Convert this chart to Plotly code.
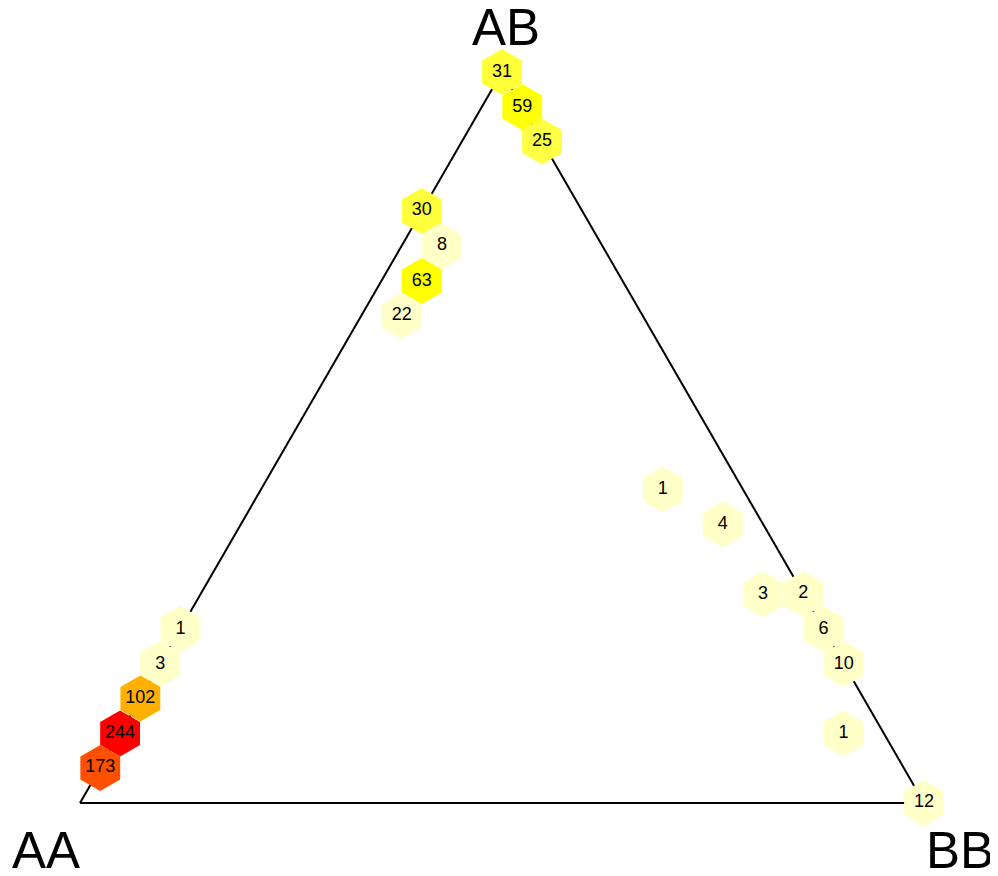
import plotly.graph_objects as go

# Genotype proportions per hexbin (AA / AB / BB) and the number of samples in each bin
aa_frac = [0, 0, 0, 0.190, 0.190, 0.238, 0.286, 0.095, 0.048, 0.048,
           0, 0, 0, 0.048, 0, 0.762, 0.810, 0.857, 0.905, 0.952]
ab_frac = [1, 0.952, 0.905, 0.810, 0.762, 0.714, 0.667, 0.429, 0.381, 0.286,
           0.286, 0.238, 0.190, 0.095, 0, 0.238, 0.190, 0.143, 0.095, 0.048]
bb_frac = [0, 0.048, 0.095, 0, 0.048, 0.048, 0.048, 0.476, 0.571, 0.667,
           0.714, 0.762, 0.810, 0.857, 1, 0, 0, 0, 0, 0]
counts = [31, 59, 25, 30, 8, 63, 22, 1, 4, 3,
          2, 6, 10, 1, 12, 1, 3, 102, 244, 173]

corner_labels = ["AB", "AA", "BB"]

FONT = "Liberation Sans, Arial, sans-serif"

# heat-like colour ramp: pale yellow for small bins, yellow -> orange -> red for big ones
heat_scale = [
    [0.0, "#FFFFC8"],
    [0.09, "#FFFFC8"],
    [0.095, "#FFFF45"],
    [0.255, "#FFFF00"],
    [0.416, "#FFB000"],
    [0.708, "#FF5000"],
    [1.0, "#FF0000"],
]

fig = go.Figure(go.Scatterternary(
    a=ab_frac,
    b=aa_frac,
    c=bb_frac,
    mode="markers+text",
    text=[str(c) for c in counts],
    textposition="middle center",
    textfont=dict(family=FONT, size=18, color="black"),
    marker=dict(
        symbol="hexagon",
        size=46,
        color=counts,
        colorscale=heat_scale,
        cmin=1,
        cmax=244,
        line=dict(width=0),
        opacity=1,
    ),
    cliponaxis=False,
    hoverinfo="text",
    showlegend=False,
))

axis_style = dict(
    showgrid=False,
    showticklabels=False,
    ticks="",
    linecolor="black",
    linewidth=2,
    layer="below traces",
    title=dict(text=""),
)

# page body has an 8px margin, so the figure is 8px smaller and shifted accordingly
fig.update_layout(
    width=990,
    height=868,
    margin=dict(l=72, r=74, t=64, b=73),
    paper_bgcolor="white",
    plot_bgcolor="white",
    ternary=dict(
        sum=1,
        bgcolor="white",
        domain=dict(x=[0, 1], y=[0, 1]),
        aaxis=axis_style,
        baxis=axis_style,
        caxis=axis_style,
    ),
    font=dict(family=FONT, color="black"),
)

# corner labels
label_pos = {"AB": (0.5047, 1.0609), "AA": (-0.0403, -0.0643), "BB": (1.0427, -0.0643)}
for lab in corner_labels:
    px, py = label_pos[lab]
    fig.add_annotation(
        text=lab, x=px, y=py, xref="paper", yref="paper",
        xanchor="center", yanchor="middle", showarrow=False,
        font=dict(family=FONT, size=51, color="black"),
    )

fig.write_html("out.html")
